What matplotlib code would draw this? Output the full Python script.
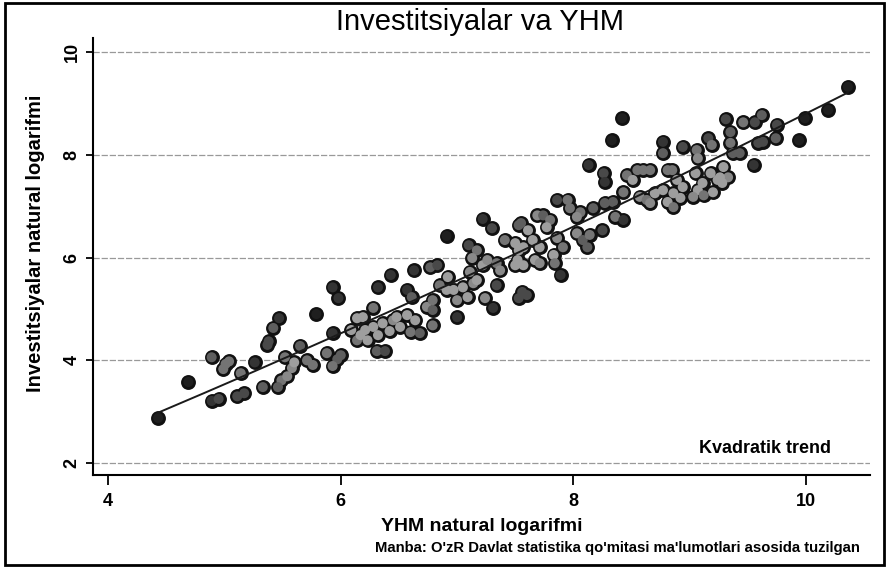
import numpy as np
import matplotlib.pyplot as plt
from matplotlib.patches import Rectangle

# Data: log GDP (x) and log investment (y)
yhm = [4.43, 4.69, 4.89, 5.01, 4.99, 5.04, 4.89, 4.95, 5.11, 5.17, 5.14, 5.26, 5.33,
       5.37, 5.38, 5.42, 5.47, 5.49, 5.46, 5.52, 5.54, 5.58, 5.60,
       5.65, 5.71, 5.76, 5.79, 5.93, 5.98, 5.93, 5.88, 5.97, 5.93, 6.00, 6.09, 6.14,
       6.14, 6.19, 6.28, 6.32, 6.43, 6.31, 6.38, 6.21, 6.23, 6.28, 6.32, 6.36, 6.42,
       6.45, 6.17,
       6.51, 6.48, 6.57, 6.64, 6.60, 6.68, 6.57, 6.61, 6.63, 6.77, 6.83, 6.91, 6.79,
       6.74, 6.79, 6.85, 6.91, 6.79, 6.92, 7.00, 6.97, 7.05, 7.14, 7.09, 7.00, 7.10,
       7.17, 7.13, 7.11, 7.17, 7.22, 7.30, 7.24, 7.31, 7.34, 7.34, 7.37, 7.22, 7.26,
       7.41, 7.50, 7.53, 7.53, 7.53, 7.55, 7.61, 7.65, 7.71, 7.50, 7.57, 7.67, 7.71,
       7.52, 7.57, 7.56, 7.60, 7.69, 7.74, 7.80, 7.77, 7.86, 7.91, 7.83, 7.84, 7.89,
       7.86, 7.95, 7.97, 8.06, 8.03, 8.03, 8.08, 8.14, 8.12, 8.17, 8.13,
       8.26, 8.27, 8.33, 8.42, 8.46, 8.27, 8.34, 8.43, 8.36, 8.43, 8.25, 8.55, 8.60,
       8.66, 8.77, 8.77, 8.81, 8.57, 8.63, 8.70, 8.77, 8.66, 8.51, 8.81, 8.86, 8.85,
       8.89, 8.86, 8.92, 8.94, 8.94, 9.06, 9.07, 9.05, 9.11, 9.07, 9.03,
       9.16, 9.19, 9.18, 9.24, 9.20, 9.12, 9.31, 9.35, 9.35, 9.29, 9.33, 9.26, 9.28,
       9.37, 9.43, 9.46, 9.56, 9.62, 9.75, 9.74, 9.55, 9.59, 9.63, 9.94, 9.99, 10.19,
       10.36]
inv = [2.88, 3.58, 4.06, 3.93, 3.83, 3.98, 3.21, 3.25, 3.30, 3.36, 3.75, 3.96, 3.48,
       4.30, 4.37, 4.63, 4.82, 3.61, 3.48, 4.06, 3.69, 3.85, 3.96,
       4.28, 4.00, 3.91, 4.90, 5.42, 5.21, 4.53, 4.14, 4.02, 3.89, 4.10, 4.59, 4.82,
       4.39, 4.84, 5.02, 5.42, 5.66, 4.18, 4.18, 4.59, 4.39, 4.65, 4.49, 4.72, 4.57,
       4.78, 4.49,
       4.65, 4.84, 4.88, 4.78, 4.55, 4.53, 5.37, 5.23, 5.75, 5.81, 5.85, 6.42, 4.68,
       5.04, 4.98, 5.46, 5.37, 5.17, 5.62, 4.84, 5.37, 5.42, 5.50, 5.23, 5.17, 6.24,
       6.14, 5.99, 5.72, 5.56, 6.75, 6.57, 5.21, 5.02, 5.46, 5.89, 5.75, 5.85, 5.95,
       6.34, 5.85, 6.14, 6.63, 5.21, 6.67, 6.53, 6.34, 6.20, 6.28, 6.20, 5.95, 5.89,
       5.95, 5.85, 5.33, 5.27, 6.82, 6.82, 6.73, 6.59, 6.38, 6.20, 6.05, 5.89, 5.66,
       7.12, 7.12, 6.96, 6.88, 6.79, 6.47, 6.34, 6.44, 6.20, 6.96, 7.80,
       7.64, 7.47, 8.28, 8.71, 7.60, 7.06, 7.08, 7.27, 6.79, 6.73, 6.53, 7.70, 7.70,
       7.70, 8.25, 8.03, 7.70, 7.18, 7.12, 7.25, 7.31, 7.06, 7.51, 7.08, 6.98, 7.70,
       7.51, 7.25, 7.16, 8.15, 7.37, 8.09, 7.93, 7.64, 7.45, 7.31, 7.18,
       8.32, 8.19, 7.64, 7.51, 7.27, 7.21, 8.69, 8.44, 8.23, 7.76, 7.56, 7.56, 7.45,
       8.03, 8.03, 8.63, 8.63, 8.77, 8.58, 8.32, 7.80, 8.23, 8.25, 8.28, 8.71, 8.87,
       9.32]

x = np.array(yhm)
y = np.array(inv)

# shade markers lighter where they pile up (like the scanned original)
dx = (x[:, None] - x[None, :]) * 116.3
dy = (y[:, None] - y[None, :]) * 51.4
neigh = (np.hypot(dx, dy) < 20).sum(axis=1) - 1
shade = 0.12 + np.clip(neigh, 0, 6) / 6 * 0.50
inner = [str(s) for s in shade]

# quadratic trend
coef = np.polyfit(x, y, 2)
xt = np.linspace(x.min(), x.max(), 200)
yt = np.polyval(coef, xt)

plt.rcParams['font.family'] = ['Liberation Sans', 'DejaVu Sans']

fig = plt.figure(figsize=(8.88, 5.67), dpi=100)
ax = fig.add_axes([93/888, 1 - 475/567, (870 - 93)/888, (475 - 38)/567])

ax.scatter(x, y, s=115, c='#111111', linewidths=0, zorder=2)
ax.scatter(x, y, s=52, c=inner, linewidths=0, zorder=3)
ax.plot(xt, yt, color='#1a1a1a', lw=1.4, zorder=4)

ax.set_xlim(3.87, 10.55)
ax.set_ylim(1.77, 10.27)
ax.set_xticks([4, 6, 8, 10])
ax.set_yticks([2, 4, 6, 8, 10])
ax.tick_params(axis='x', direction='out', length=7, width=1.3, labelsize=13, pad=6)
ax.tick_params(axis='y', direction='out', length=5, width=1.3, labelsize=13, pad=4)
for lab in ax.get_yticklabels():
    lab.set_rotation(90)
    lab.set_va('center')
for lab in ax.get_xticklabels() + ax.get_yticklabels():
    lab.set_fontweight('bold')

ax.yaxis.grid(True, color='#999999', lw=0.9, ls=(0, (5, 1.5)), zorder=0)
ax.spines['top'].set_visible(False)
ax.spines['right'].set_visible(False)
ax.spines['left'].set_linewidth(1.5)
ax.spines['bottom'].set_linewidth(1.5)

ax.set_xlabel('YHM natural logarifmi', fontsize=14, fontweight='bold', labelpad=6)
ax.set_ylabel('Investitsiyalar natural logarifmi', fontsize=14.5, fontweight='bold')
ax.yaxis.set_label_coords(-0.062, 0.53)
ax.text(0.95, 0.06, 'Kvadratik trend', transform=ax.transAxes, ha='right',
        va='center', fontsize=13, fontweight='bold')

fig.text(480/888, 1 - 22/567, 'Investitsiyalar va YHM', ha='center', va='center',
         fontsize=21)
fig.text(860/888, 1 - 548/567,
         "Manba: O'zR Davlat statistika qo'mitasi ma'lumotlari asosida tuzilgan",
         ha='right', va='center', fontsize=10.7, fontweight='bold')

fig.patches.append(Rectangle((5/888, 2/567), 879/888, 562/567, transform=fig.transFigure,
                             fill=False, edgecolor='black', lw=2))

plt.savefig('out.png', dpi=100)
